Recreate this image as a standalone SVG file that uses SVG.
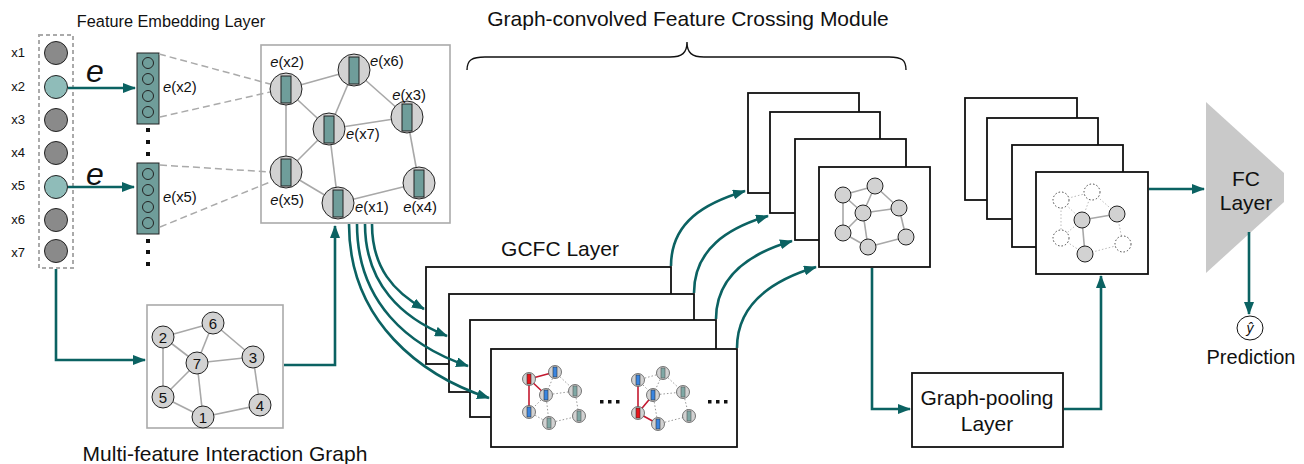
<svg xmlns="http://www.w3.org/2000/svg" width="1304" height="464" viewBox="0 0 1304 464">
<style>
text{font-family:"Liberation Sans",Arial,Helvetica,sans-serif;fill:#111}
.lbl{font-size:21px}
.sm{font-size:13px}
.el{font-size:14.8px}
.flow{fill:none;stroke:#0b6262;stroke-width:2.6}
.ge{stroke:#a8a8a8;stroke-width:1.6;fill:none}
.dot{stroke:#999;stroke-width:1;stroke-dasharray:1.5 2;fill:none}
.ldot{stroke:#bbb;stroke-width:1;stroke-dasharray:1.5 2;fill:none}
.red{stroke:#c3182f;stroke-width:1.6;fill:none}
.gn{fill:#d2d2d2;stroke:#222;stroke-width:1}
.vec{fill:#6f9d9a;stroke:#222;stroke-width:1}
.box{fill:#fff;stroke:#111;stroke-width:1.8}
.gbox{fill:#fff;stroke:#aaa;stroke-width:1.6}
.dashn{fill:#fff;stroke:#444;stroke-width:1;stroke-dasharray:1.5 2}
</style>
<defs>
<marker id="ah" viewBox="0 0 13 10" refX="12" refY="5" markerWidth="13" markerHeight="10" markerUnits="userSpaceOnUse" orient="auto">
<path d="M0,0 L13,5 L0,10 z" fill="#0b6262"/>
</marker>
<g id="sn"><circle r="6.5" fill="#d2d2d2" stroke="#555" stroke-width="0.8"/></g>
</defs>

<!-- titles -->
<text x="171" y="27" font-size="16.3" text-anchor="middle">Feature Embedding Layer</text>
<text class="lbl" x="688" y="26" text-anchor="middle">Graph-convolved Feature Crossing Module</text>
<path d="M467,70 C467,60 472,57 485,57 L670,57 C682,57 687,53 687,42 C687,53 692,57 704,57 L889,57 C902,57 906,60 906,70" fill="none" stroke="#111" stroke-width="1.4"/>
<text class="lbl" x="225" y="461" text-anchor="middle">Multi-feature Interaction Graph</text>

<!-- input features -->
<g id="input">
<rect x="39" y="35" width="34" height="233" fill="none" stroke="#aaa" stroke-width="2" stroke-dasharray="4 3"/>
<g class="sm">
<text x="18" y="57" text-anchor="middle">x1</text>
<text x="18" y="91" text-anchor="middle">x2</text>
<text x="18" y="124" text-anchor="middle">x3</text>
<text x="18" y="157" text-anchor="middle">x4</text>
<text x="18" y="190" text-anchor="middle">x5</text>
<text x="18" y="224" text-anchor="middle">x6</text>
<text x="18" y="257" text-anchor="middle">x7</text>
</g>
<circle cx="56" cy="53" r="11.5" fill="#8a8a8a" stroke="#222"/>
<circle cx="56" cy="87" r="11.5" fill="#8fbcb9" stroke="#222"/>
<circle cx="56" cy="120" r="11.5" fill="#8a8a8a" stroke="#222"/>
<circle cx="56" cy="153" r="11.5" fill="#8a8a8a" stroke="#222"/>
<circle cx="56" cy="187" r="11.5" fill="#8fbcb9" stroke="#222"/>
<circle cx="56" cy="220" r="11.5" fill="#8a8a8a" stroke="#222"/>
<circle cx="56" cy="251" r="11.5" fill="#8a8a8a" stroke="#222"/>
</g>

<!-- embedding vectors -->
<g id="emb-x2">
<rect x="137" y="53" width="22" height="71" class="vec"/>
<circle cx="148" cy="63" r="5.5" fill="none" stroke="#222"/>
<circle cx="148" cy="79" r="5.5" fill="none" stroke="#222"/>
<circle cx="148" cy="96" r="5.5" fill="none" stroke="#222"/>
<circle cx="148" cy="112" r="5.5" fill="none" stroke="#222"/>
<text class="el" x="163" y="92"><tspan font-style="italic">e</tspan>(x2)</text>
</g>
<g id="emb-x5">
<rect x="137" y="163" width="22" height="71" class="vec"/>
<circle cx="148" cy="174" r="5.5" fill="none" stroke="#222"/>
<circle cx="148" cy="190" r="5.5" fill="none" stroke="#222"/>
<circle cx="148" cy="207" r="5.5" fill="none" stroke="#222"/>
<circle cx="148" cy="223" r="5.5" fill="none" stroke="#222"/>
<text class="el" x="163" y="202"><tspan font-style="italic">e</tspan>(x5)</text>
</g>
<g id="emb-dots" fill="#111">
<rect x="146" y="128" width="4" height="4"/>
<rect x="146" y="140" width="4" height="4"/>
<rect x="146" y="152" width="4" height="4"/>
<rect x="146" y="239" width="4" height="4"/>
<rect x="146" y="250" width="4" height="4"/>
<rect x="146" y="262" width="4" height="4"/>
</g>
<text x="95" y="82" font-size="32" font-style="italic" text-anchor="middle">e</text>
<text x="95" y="185" font-size="32" font-style="italic" text-anchor="middle">e</text>

<!-- embedding graph -->
<g id="emb-graph">
<rect x="261" y="45" width="189" height="178" class="gbox"/>
<g stroke="#aaa" stroke-width="1.5" stroke-dasharray="7 4">
<line x1="159" y1="54" x2="270" y2="84"/>
<line x1="160" y1="117" x2="270" y2="92"/>
<line x1="160" y1="165" x2="270" y2="172"/>
<line x1="160" y1="227" x2="270" y2="182"/>
</g>
<g class="ge">
<line x1="286" y1="89" x2="354" y2="70"/>
<line x1="286" y1="89" x2="329" y2="129"/>
<line x1="286" y1="89" x2="286" y2="172"/>
<line x1="354" y1="70" x2="329" y2="129"/>
<line x1="354" y1="70" x2="407" y2="117"/>
<line x1="329" y1="129" x2="407" y2="117"/>
<line x1="329" y1="129" x2="286" y2="172"/>
<line x1="329" y1="129" x2="338" y2="203"/>
<line x1="286" y1="172" x2="338" y2="203"/>
<line x1="338" y1="203" x2="419" y2="183"/>
<line x1="407" y1="117" x2="419" y2="183"/>
</g>
<g id="en2"><circle cx="286" cy="89" r="16" class="gn"/><rect x="281" y="76" width="10" height="27" class="vec"/></g>
<g id="en6"><circle cx="354" cy="70" r="16" class="gn"/><rect x="349" y="57" width="10" height="27" class="vec"/></g>
<g id="en3"><circle cx="407" cy="117" r="16" class="gn"/><rect x="402" y="104" width="10" height="27" class="vec"/></g>
<g id="en7"><circle cx="329" cy="129" r="16" class="gn"/><rect x="324" y="116" width="10" height="27" class="vec"/></g>
<g id="en5"><circle cx="286" cy="172" r="16" class="gn"/><rect x="281" y="159" width="10" height="27" class="vec"/></g>
<g id="en1"><circle cx="338" cy="203" r="16" class="gn"/><rect x="333" y="190" width="10" height="27" class="vec"/></g>
<g id="en4"><circle cx="419" cy="183" r="16" class="gn"/><rect x="414" y="170" width="10" height="27" class="vec"/></g>
<g class="el">
<text x="287" y="67" text-anchor="middle"><tspan font-style="italic">e</tspan>(x2)</text>
<text x="370" y="66"><tspan font-style="italic">e</tspan>(x6)</text>
<text x="409" y="100" text-anchor="middle"><tspan font-style="italic">e</tspan>(x3)</text>
<text x="346" y="139"><tspan font-style="italic">e</tspan>(x7)</text>
<text x="287" y="205" text-anchor="middle"><tspan font-style="italic">e</tspan>(x5)</text>
<text x="355" y="212"><tspan font-style="italic">e</tspan>(x1)</text>
<text x="420" y="212" text-anchor="middle"><tspan font-style="italic">e</tspan>(x4)</text>
</g>
</g>

<!-- multi-feature interaction graph -->
<g id="mfig">
<rect x="147" y="305" width="136" height="123" class="gbox"/>
<g class="ge">
<line x1="163" y1="337" x2="213" y2="323"/>
<line x1="163" y1="337" x2="197" y2="363"/>
<line x1="163" y1="337" x2="163" y2="397"/>
<line x1="213" y1="323" x2="197" y2="363"/>
<line x1="213" y1="323" x2="253" y2="357"/>
<line x1="197" y1="363" x2="253" y2="357"/>
<line x1="197" y1="363" x2="163" y2="397"/>
<line x1="197" y1="363" x2="203" y2="417"/>
<line x1="163" y1="397" x2="203" y2="417"/>
<line x1="203" y1="417" x2="260" y2="405"/>
<line x1="253" y1="357" x2="260" y2="405"/>
</g>
<g font-size="15" text-anchor="middle">
<circle cx="163" cy="337" r="11" class="gn"/><text x="163" y="342.5">2</text>
<circle cx="213" cy="323" r="11" class="gn"/><text x="213" y="328.5">6</text>
<circle cx="197" cy="363" r="11" class="gn"/><text x="197" y="368.5">7</text>
<circle cx="253" cy="357" r="11" class="gn"/><text x="253" y="362.5">3</text>
<circle cx="163" cy="397" r="11" class="gn"/><text x="163" y="402.5">5</text>
<circle cx="203" cy="417" r="11" class="gn"/><text x="203" y="422.5">1</text>
<circle cx="260" cy="405" r="11" class="gn"/><text x="260" y="410.5">4</text>
</g>
</g>

<!-- GCFC layer stack -->
<g id="gcfc">
<text class="lbl" x="560" y="256" text-anchor="middle">GCFC Layer</text>
<rect x="426" y="267" width="245" height="97" class="box"/>
<rect x="449" y="294" width="245" height="98" class="box"/>
<rect x="470" y="320" width="246" height="97" class="box"/>
<rect x="491" y="349" width="246" height="98" class="box"/>
<!-- left small graph -->
<g class="dot">
<line x1="555" y1="372" x2="546" y2="395"/>
<line x1="555" y1="372" x2="575" y2="391"/>
<line x1="546" y1="395" x2="575" y2="391"/>
<line x1="546" y1="395" x2="529" y2="412"/>
<line x1="546" y1="395" x2="549" y2="423"/>
<line x1="529" y1="412" x2="549" y2="423"/>
<line x1="549" y1="423" x2="579" y2="416"/>
<line x1="575" y1="391" x2="579" y2="416"/>
</g>
<g class="red">
<line x1="529" y1="379" x2="555" y2="372"/>
<line x1="529" y1="379" x2="546" y2="395"/>
<line x1="529" y1="379" x2="529" y2="412"/>
</g>
<use href="#sn" x="529" y="379"/><rect x="527" y="374" width="4" height="10" fill="#e8161c" stroke="#333" stroke-width="0.6"/>
<use href="#sn" x="555" y="372"/><rect x="553" y="367" width="4" height="10" fill="#3a85e0" stroke="#333" stroke-width="0.6"/>
<use href="#sn" x="546" y="395"/><rect x="544" y="390" width="4" height="10" fill="#3a85e0" stroke="#333" stroke-width="0.6"/>
<use href="#sn" x="529" y="412"/><rect x="527" y="407" width="4" height="10" fill="#3a85e0" stroke="#333" stroke-width="0.6"/>
<use href="#sn" x="575" y="391"/><rect x="573" y="386" width="4" height="10" fill="#7fa8a5" stroke="#555" stroke-width="0.6"/>
<use href="#sn" x="549" y="423"/><rect x="547" y="418" width="4" height="10" fill="#7fa8a5" stroke="#555" stroke-width="0.6"/>
<use href="#sn" x="579" y="416"/><rect x="577" y="411" width="4" height="10" fill="#7fa8a5" stroke="#555" stroke-width="0.6"/>
<!-- right small graph -->
<g class="dot">
<line x1="638" y1="380" x2="663" y2="373"/>
<line x1="638" y1="380" x2="653" y2="395"/>
<line x1="663" y1="373" x2="653" y2="395"/>
<line x1="663" y1="373" x2="683" y2="392"/>
<line x1="653" y1="395" x2="683" y2="392"/>
<line x1="653" y1="395" x2="658" y2="424"/>
<line x1="658" y1="424" x2="689" y2="416"/>
<line x1="683" y1="392" x2="689" y2="416"/>
</g>
<g class="red">
<line x1="638" y1="413" x2="638" y2="380"/>
<line x1="638" y1="413" x2="653" y2="395"/>
<line x1="638" y1="413" x2="658" y2="424"/>
</g>
<use href="#sn" x="638" y="380"/><rect x="636" y="375" width="4" height="10" fill="#3a85e0" stroke="#333" stroke-width="0.6"/>
<use href="#sn" x="663" y="373"/><rect x="661" y="368" width="4" height="10" fill="#7fa8a5" stroke="#555" stroke-width="0.6"/>
<use href="#sn" x="653" y="395"/><rect x="651" y="390" width="4" height="10" fill="#3a85e0" stroke="#333" stroke-width="0.6"/>
<use href="#sn" x="638" y="413"/><rect x="636" y="408" width="4" height="10" fill="#e8161c" stroke="#333" stroke-width="0.6"/>
<use href="#sn" x="683" y="392"/><rect x="681" y="387" width="4" height="10" fill="#7fa8a5" stroke="#555" stroke-width="0.6"/>
<use href="#sn" x="658" y="424"/><rect x="656" y="419" width="4" height="10" fill="#3a85e0" stroke="#333" stroke-width="0.6"/>
<use href="#sn" x="689" y="416"/><rect x="687" y="411" width="4" height="10" fill="#7fa8a5" stroke="#555" stroke-width="0.6"/>
<g fill="#111">
<rect x="600" y="400" width="3.5" height="3.5"/><rect x="608" y="400" width="3.5" height="3.5"/><rect x="616" y="400" width="3.5" height="3.5"/>
<rect x="708" y="400" width="3.5" height="3.5"/><rect x="716" y="400" width="3.5" height="3.5"/><rect x="724" y="400" width="3.5" height="3.5"/>
</g>
</g>

<!-- convolved output stack -->
<g id="conv-out">
<rect x="748" y="93" width="111" height="100" class="box"/>
<rect x="770" y="112" width="110" height="101" class="box"/>
<rect x="795" y="139" width="111" height="101" class="box"/>
<rect x="819" y="167" width="111" height="100" class="box"/>
<g class="ge">
<line x1="843" y1="195" x2="875" y2="186"/>
<line x1="843" y1="195" x2="863" y2="213"/>
<line x1="843" y1="195" x2="843" y2="233"/>
<line x1="875" y1="186" x2="863" y2="213"/>
<line x1="875" y1="186" x2="899" y2="208"/>
<line x1="863" y1="213" x2="899" y2="208"/>
<line x1="863" y1="213" x2="843" y2="233"/>
<line x1="863" y1="213" x2="868" y2="247"/>
<line x1="843" y1="233" x2="868" y2="247"/>
<line x1="868" y1="247" x2="906" y2="237"/>
<line x1="899" y1="208" x2="906" y2="237"/>
</g>
<circle cx="843" cy="195" r="8" class="gn"/>
<circle cx="875" cy="186" r="8" class="gn"/>
<circle cx="863" cy="213" r="8" class="gn"/>
<circle cx="899" cy="208" r="8" class="gn"/>
<circle cx="843" cy="233" r="8" class="gn"/>
<circle cx="868" cy="247" r="8" class="gn"/>
<circle cx="906" cy="237" r="8" class="gn"/>
</g>

<!-- pooled stack -->
<g id="pooled">
<rect x="965" y="98" width="112" height="102" class="box"/>
<rect x="987" y="118" width="111" height="101" class="box"/>
<rect x="1012" y="145" width="111" height="102" class="box"/>
<rect x="1036" y="172" width="112" height="102" class="box"/>
<g class="ldot">
<line x1="1061" y1="200" x2="1092" y2="192"/>
<line x1="1061" y1="200" x2="1082" y2="220"/>
<line x1="1061" y1="200" x2="1061" y2="238"/>
<line x1="1092" y1="192" x2="1117" y2="214"/>
<line x1="1092" y1="192" x2="1082" y2="220"/>
<line x1="1082" y1="220" x2="1061" y2="238"/>
<line x1="1061" y1="238" x2="1085" y2="254"/>
<line x1="1085" y1="254" x2="1123" y2="244"/>
<line x1="1117" y1="214" x2="1123" y2="244"/>
</g>
<g class="ge" stroke-width="1.2">
<line x1="1082" y1="220" x2="1117" y2="214"/>
<line x1="1082" y1="220" x2="1085" y2="254"/>
</g>
<circle cx="1061" cy="200" r="8" class="dashn"/>
<circle cx="1092" cy="192" r="8" class="dashn"/>
<circle cx="1061" cy="238" r="8" class="dashn"/>
<circle cx="1123" cy="244" r="8" class="dashn"/>
<circle cx="1117" cy="214" r="8" class="gn"/>
<circle cx="1082" cy="220" r="8" class="gn"/>
<circle cx="1085" cy="254" r="8" class="gn"/>
</g>

<!-- graph pooling layer -->
<g id="pooling">
<rect x="912" y="373" width="151" height="74" class="box"/>
<text class="lbl" x="987" y="405" text-anchor="middle">Graph-pooling</text>
<text class="lbl" x="987" y="431" text-anchor="middle">Layer</text>
</g>

<!-- FC layer -->
<g id="fc">
<polygon points="1206,102 1284,173 1284,202 1206,273" fill="#c9c9c9"/>
<text x="1246" y="186" font-size="21" text-anchor="middle">FC</text>
<text x="1246" y="210" font-size="21" text-anchor="middle">Layer</text>
</g>

<!-- prediction -->
<g id="prediction">
<ellipse cx="1250" cy="328" rx="13" ry="12" fill="#fff" stroke="#111" stroke-width="1"/>
<text x="1250" y="333" font-family="Liberation Serif,serif" font-style="italic" font-size="14" text-anchor="middle">ŷ</text>
<text x="1251" y="364" font-size="20" text-anchor="middle">Prediction</text>
</g>

<!-- connectors -->
<g id="connectors" class="flow">
<line x1="68" y1="88" x2="135" y2="88" marker-end="url(#ah)"/>
<line x1="68" y1="187" x2="134" y2="187" marker-end="url(#ah)"/>
<path d="M56,269 L56,360 L145,360" marker-end="url(#ah)"/>
<path d="M284,365 L335,365 L335,226" marker-end="url(#ah)"/>
<path d="M372,224 C372,268 394,292 424,309" marker-end="url(#ah)"/>
<path d="M365,224 C365,284 402,318 447,336" marker-end="url(#ah)"/>
<path d="M357,224 C357,302 408,346 468,366" marker-end="url(#ah)"/>
<path d="M349,224 C349,322 422,376 489,398" marker-end="url(#ah)"/>
<path d="M671,266 C671,222 705,203 745,191" marker-end="url(#ah)"/>
<path d="M694,293 C694,249 728,228 768,216" marker-end="url(#ah)"/>
<path d="M716,319 C716,275 751,253 792,241" marker-end="url(#ah)"/>
<path d="M737,348 C737,304 773,280 816,267" marker-end="url(#ah)"/>
<path d="M872,268 L872,409 L910,409" marker-end="url(#ah)"/>
<path d="M1064,409 L1101,409 L1101,276" marker-end="url(#ah)"/>
<line x1="1149" y1="189" x2="1204" y2="189" marker-end="url(#ah)"/>
<line x1="1249" y1="232" x2="1249" y2="314" marker-end="url(#ah)"/>
</g>
</svg>
